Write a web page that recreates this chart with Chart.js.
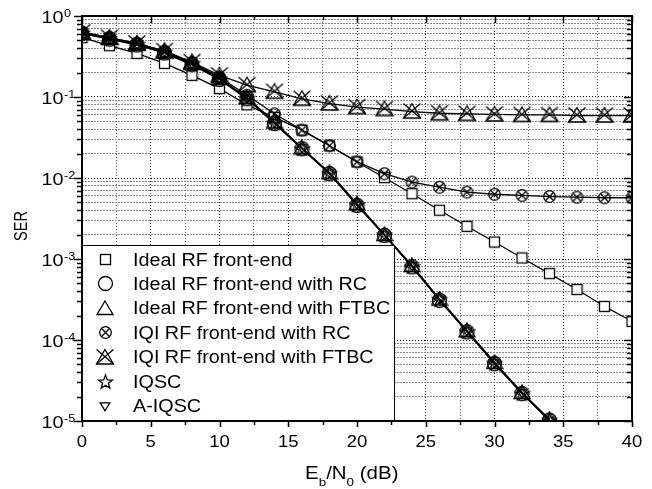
<!DOCTYPE html>
<html>
<head>
<meta charset="utf-8">
<script src="https://cdn.jsdelivr.net/npm/chart.js@4.4.1/dist/chart.umd.min.js"></script>
<style>
  html, body { margin: 0; padding: 0; background: #fff; }
</style>
</head>
<body>
<canvas id="serChart" width="652" height="489"></canvas>
<script>
// Eb/N0 points (dB)
var snr = [0, 2, 4, 6, 8, 10, 12, 14, 16, 18, 20, 22, 24, 26, 28, 30, 32, 34, 36, 38, 40];
var snrShort = [0, 2, 4, 6, 8, 10, 12, 14, 16, 18, 20, 22, 24, 26, 28, 30, 32, 34];

// SER values
var idealRF = [0.54, 0.43, 0.345, 0.26, 0.185, 0.127, 0.08, 0.056, 0.039, 0.025, 0.0158, 0.0101, 0.0064, 0.004, 0.00253, 0.00162, 0.00103, 0.00066, 0.00042, 0.00026, 0.00017];
var idealRC = [0.61, 0.52, 0.44, 0.35, 0.25, 0.165, 0.095, 0.047, 0.023, 0.0113, 0.0046, 0.00196, 0.0008, 0.00031, 0.000126, 0.000051, 0.0000218, 0.0000102];
var idealFTBC = [0.62, 0.53, 0.45, 0.36, 0.26, 0.17, 0.098, 0.049, 0.0235, 0.0116, 0.0048, 0.002, 0.00083, 0.00032, 0.00013, 0.000053, 0.0000225, 0.0000105];
var iqiRC = [0.63, 0.54, 0.46, 0.365, 0.265, 0.175, 0.105, 0.062, 0.039, 0.025, 0.0158, 0.0113, 0.0089, 0.0077, 0.0067, 0.0063, 0.0061, 0.0059, 0.0058, 0.0057, 0.0057];
var iqiFTBC = [0.63, 0.54, 0.46, 0.37, 0.27, 0.185, 0.14, 0.116, 0.095, 0.083, 0.075, 0.071, 0.066, 0.063, 0.062, 0.061, 0.06, 0.06, 0.059, 0.059, 0.059];
var iqsc = [0.62, 0.53, 0.45, 0.36, 0.26, 0.168, 0.097, 0.048, 0.0232, 0.0115, 0.0047, 0.00199, 0.00081, 0.00032, 0.000128, 0.000052, 0.000022, 0.0000103];
var aIqsc = [0.61, 0.52, 0.44, 0.35, 0.252, 0.166, 0.096, 0.0475, 0.0231, 0.0114, 0.00465, 0.00197, 0.00081, 0.000315, 0.000127, 0.0000515, 0.0000219, 0.0000101];

var xTickValues = [0, 2.5, 5, 7.5, 10, 12.5, 15, 17.5, 20, 22.5, 25, 27.5, 30, 32.5, 35, 37.5, 40];
var xTickLabels = ['0', '5', '10', '15', '20', '25', '30', '35', '40'];
var yDecades = [-5, -4, -3, -2, -1, 0];
var legendLabels = [
  'Ideal RF front-end',
  'Ideal RF front-end with RC',
  'Ideal RF front-end with FTBC',
  'IQI RF front-end with RC',
  'IQI RF front-end with FTBC',
  'IQSC',
  'A-IQSC'
];

var FONT = '"Liberation Sans", Arial, sans-serif';

// marker images
function makeMarker(w, h, draw) {
  var c = document.createElement('canvas');
  c.width = w; c.height = h;
  var g = c.getContext('2d');
  g.strokeStyle = '#000';
  g.fillStyle = '#fff';
  g.lineWidth = 1.3;
  draw(g, w / 2, h / 2);
  return c;
}
var mSquare = makeMarker(13, 13, function(g, cx, cy) {
  g.fillRect(1.5, 1.5, 10, 10);
  g.strokeRect(1.5, 1.5, 10, 10);
});
var mCircle = makeMarker(17, 17, function(g, cx, cy) {
  g.beginPath(); g.arc(cx, cy, 7, 0, Math.PI * 2); g.stroke();
});
var mTriangle = makeMarker(18, 17, function(g, cx, cy) {
  g.beginPath();
  g.moveTo(cx, cy - 7.5); g.lineTo(cx + 8, cy + 6); g.lineTo(cx - 8, cy + 6);
  g.closePath(); g.stroke();
});
var mCircleX = makeMarker(15, 15, function(g, cx, cy) {
  var r = 5.8, d = r * 0.72;
  g.beginPath(); g.arc(cx, cy, r, 0, Math.PI * 2); g.stroke();
  g.beginPath();
  g.moveTo(cx - d, cy - d); g.lineTo(cx + d, cy + d);
  g.moveTo(cx + d, cy - d); g.lineTo(cx - d, cy + d);
  g.stroke();
});
var mXTri = makeMarker(20, 19, function(g, cx, cy) {
  g.beginPath();
  g.moveTo(cx, cy - 8); g.lineTo(cx + 8.5, cy + 6.5); g.lineTo(cx - 8.5, cy + 6.5);
  g.closePath(); g.stroke();
  g.beginPath();
  g.moveTo(cx - 8.5, cy - 8); g.lineTo(cx + 8.5, cy + 6.5);
  g.moveTo(cx + 8.5, cy - 8); g.lineTo(cx - 8.5, cy + 6.5);
  g.stroke();
});
var mStar = makeMarker(17, 17, function(g, cx, cy) {
  var ro = 7.3, ri = 3;
  g.beginPath();
  for (var i = 0; i < 10; i++) {
    var r = i % 2 === 0 ? ro : ri;
    var a = -Math.PI / 2 + i * Math.PI / 5;
    var px = cx + r * Math.cos(a), py = cy + 0.8 + r * Math.sin(a);
    if (i === 0) g.moveTo(px, py); else g.lineTo(px, py);
  }
  g.closePath(); g.stroke();
});
var mInvTri = makeMarker(12, 11, function(g, cx, cy) {
  g.beginPath();
  g.moveTo(cx - 4.8, cy - 3.7); g.lineTo(cx + 4.8, cy - 3.7); g.lineTo(cx, cy + 4.3);
  g.closePath(); g.stroke();
});
var legendMarkers = [mSquare, mCircle, mTriangle, mCircleX, mXTri, mStar, mInvTri];

function pts(xs, ys) {
  return xs.map(function(x, i) { return { x: x, y: ys[i] }; });
}
function series(label, xs, ys, marker, order, width) {
  return {
    label: label,
    data: pts(xs, ys),
    borderColor: '#000',
    borderWidth: width || 1.2,
    pointStyle: marker,
    pointRadius: 6,
    fill: false,
    tension: 0,
    order: order
  };
}

var isDecade = function(v) {
  var l = Math.log10(v);
  return Math.abs(l - Math.round(l)) < 1e-9;
};

// axis frame, ticks, labels, titles and legend
var decorPlugin = {
  id: 'decor',
  afterDraw: function(chart) {
    var c = chart.ctx, a = chart.chartArea;
    var xs = chart.scales.x, ys = chart.scales.y;
    c.save();

    // legend box
    var lx = a.left, ly = 245, lr = 394, lb = a.bottom;
    c.fillStyle = '#fff';
    c.fillRect(lx, ly, lr - lx, lb - ly);
    c.strokeStyle = '#000';
    c.lineWidth = 1;
    c.strokeRect(lx + 0.5, ly + 0.5, lr - lx, lb - ly);
    c.fillStyle = '#000';
    c.font = '17.5px ' + FONT;
    c.textBaseline = 'alphabetic';
    c.textAlign = 'left';
    legendLabels.forEach(function(t, i) {
      var cy = 259.5 + i * 24.45;
      var m = legendMarkers[i];
      c.drawImage(m, Math.round(105 - m.width / 2), Math.round(cy - m.height / 2));
      c.save();
      c.translate(133, cy + 6);
      c.scale(1.13, 1);
      c.fillText(t, 0, 0);
      c.restore();
    });

    // ticks
    c.strokeStyle = '#000';
    c.lineWidth = 1.5;
    c.beginPath();
    xs.ticks.forEach(function(t) {
      var px = Math.round(xs.getPixelForValue(t.value)) + 0.5;
      var major = t.value % 5 === 0;
      c.moveTo(px, a.bottom); c.lineTo(px, a.bottom + (major ? 6 : 4));
      c.moveTo(px, a.top); c.lineTo(px, a.top + (major ? 7 : 4));
    });
    ys.ticks.forEach(function(t) {
      var py = Math.round(ys.getPixelForValue(t.value)) + 0.5;
      var major = isDecade(t.value);
      c.moveTo(a.left, py); c.lineTo(a.left - (major ? 8 : 5), py);
      c.moveTo(a.right, py); c.lineTo(a.right - (major ? 8 : 5), py);
    });
    c.stroke();

    // frame
    c.lineWidth = 2;
    c.strokeRect(a.left, a.top, a.right - a.left, a.bottom - a.top);

    // x tick labels
    c.fillStyle = '#000';
    c.font = '16.5px ' + FONT;
    c.textAlign = 'center';
    xTickLabels.forEach(function(lab) {
      var px = xs.getPixelForValue(Number(lab));
      c.save();
      c.translate(px, a.bottom + 26);
      c.scale(1.12, 1);
      c.fillText(lab, 0, 0);
      c.restore();
    });

    // y tick labels 10^n
    yDecades.forEach(function(e) {
      var py = ys.getPixelForValue(Math.pow(10, e));
      c.save();
      c.translate(63.5, py + 6.5);
      c.scale(1.2, 1);
      c.font = '16.5px ' + FONT;
      c.textAlign = 'right';
      c.fillText('10', 0, 0);
      c.restore();
      c.save();
      c.translate(64, py + 0.5);
      c.scale(1.15, 1);
      c.font = '11px ' + FONT;
      c.textAlign = 'left';
      c.fillText(String(e), 0, 0);
      c.restore();
    });

    // y title
    c.save();
    c.translate(26.5, 226);
    c.scale(1.27, 1);
    c.rotate(-Math.PI / 2);
    c.font = '14.5px ' + FONT;
    c.textAlign = 'center';
    c.textBaseline = 'alphabetic';
    c.fillText('SER', 0, 0);
    c.restore();

    // x title E_b/N_0 (dB)
    c.save();
    c.translate(305, 479.3);
    c.scale(1.17, 1);
    c.textAlign = 'left';
    var parts = [['E', 0, 17.5], ['b', 7, 11.5], ['/N', 0, 17.5], ['0', 7, 11.5], [' (dB)', 0, 17.5]];
    var cx = 0;
    parts.forEach(function(p) {
      c.font = p[2] + 'px ' + FONT;
      c.fillText(p[0], cx, p[1]);
      cx += c.measureText(p[0]).width;
    });
    c.restore();

    c.restore();
  }
};

new Chart(document.getElementById('serChart'), {
  type: 'line',
  data: {
    datasets: [
      series(legendLabels[0], snr, idealRF, mSquare, 7, 1.2),
      series(legendLabels[1], snrShort, idealRC, mCircle, 6, 1.4),
      series(legendLabels[2], snrShort, idealFTBC, mTriangle, 5, 1.4),
      series(legendLabels[3], snr, iqiRC, mCircleX, 4, 1.3),
      series(legendLabels[4], snr, iqiFTBC, mXTri, 3, 1.3),
      series(legendLabels[5], snrShort, iqsc, mStar, 2, 1.4),
      series(legendLabels[6], snrShort, aIqsc, mInvTri, 1, 1.4)
    ]
  },
  options: {
    responsive: false,
    animation: false,
    events: [],
    layout: { padding: { left: 0, right: 20, top: 16, bottom: 0 } },
    plugins: { legend: { display: false }, tooltip: { enabled: false } },
    scales: {
      x: {
        type: 'linear',
        min: 0,
        max: 40,
        afterBuildTicks: function(s) {
          s.ticks = xTickValues.map(function(v) { return { value: v }; });
        },
        afterFit: function(s) { s.height = 68; },
        ticks: { display: false },
        grid: {
          drawTicks: false,
          lineWidth: 1,
          color: function(ctx) { return ctx.tick && ctx.tick.value % 5 === 0 ? '#222' : '#666'; }
        },
        border: { display: false, dash: [1, 2] }
      },
      y: {
        type: 'logarithmic',
        min: 1e-5,
        max: 1,
        afterBuildTicks: function(s) {
          var t = [];
          yDecades.forEach(function(e) {
            for (var m = 1; m <= 9; m++) {
              if (e === 0 && m > 1) break;
              t.push({ value: m * Math.pow(10, e), major: m === 1 });
            }
          });
          s.ticks = t;
        },
        afterFit: function(s) { s.width = 82; },
        ticks: { display: false },
        grid: {
          drawTicks: false,
          lineWidth: 1,
          color: function(ctx) { return ctx.tick && isDecade(ctx.tick.value) ? '#000' : '#8a8a8a'; }
        },
        border: {
          display: false,
          dash: function(ctx) { return ctx.tick && isDecade(ctx.tick.value) ? [1, 2] : [2, 1]; }
        }
      }
    }
  },
  plugins: [decorPlugin]
});
</script>
</body>
</html>
